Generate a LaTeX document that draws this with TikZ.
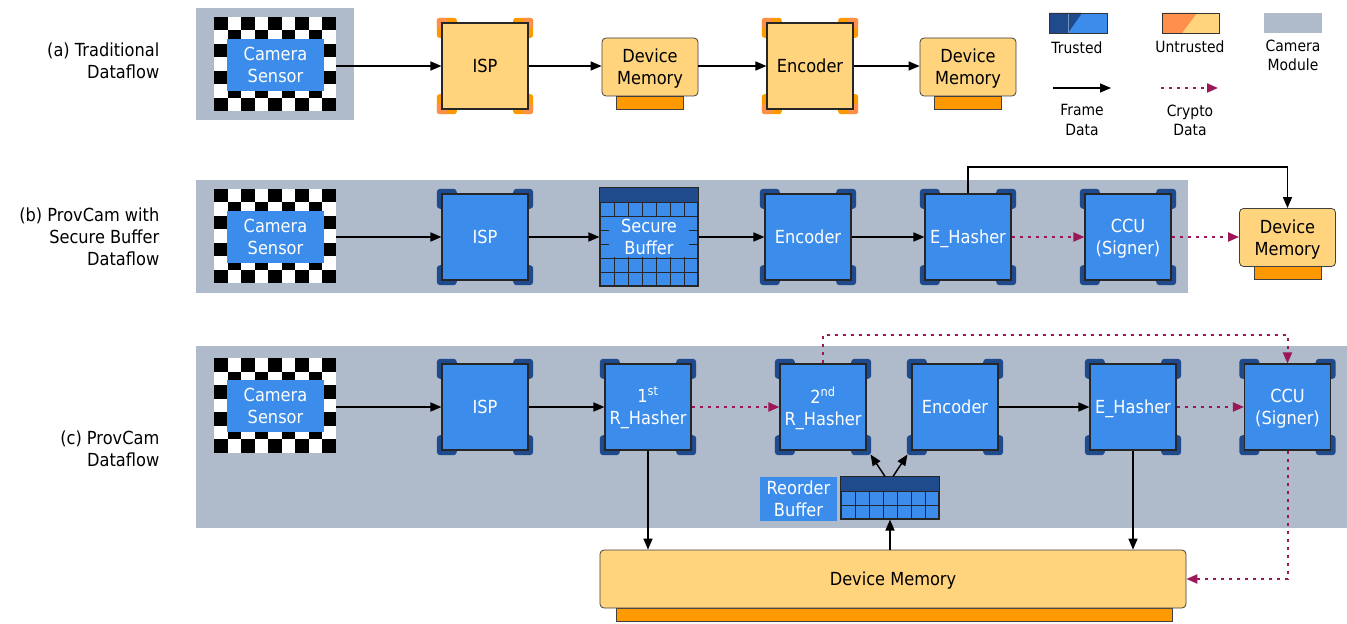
\documentclass[tikz,border=0pt]{standalone}
\usepackage{fontspec}
\setmainfont{DejaVu Sans}[FakeStretch=0.9]
\usetikzlibrary{arrows.meta,calc}
\definecolor{tblue}{HTML}{3C8DEB}
\definecolor{dblue}{HTML}{1F4A8C}
\definecolor{uyellow}{HTML}{FFD47C}
\definecolor{salmon}{HTML}{FF904C}
\definecolor{obase}{HTML}{FF9900}
\definecolor{mgray}{HTML}{AFBACB}
\definecolor{crypto}{HTML}{9B1758}
\pgfdeclarelayer{bg}\pgfdeclarelayer{brk}\pgfsetlayers{bg,brk,main}
\newcommand\ml[1]{\raisebox{-1.6pt}[\height][\depth]{\begin{tabular}{@{}c@{}}#1\end{tabular}}}
\newcommand\tbr[1]{%
 \begin{pgfonlayer}{brk}
 \foreach \c/\sx/\sy in {north west/1/-1,north east/-1/-1,south west/1/1,south east/-1/1}{
   \fill[dblue, rounded corners=2.5pt] ($(#1.\c)+({-(\sx)*3.5pt},{-(\sy)*3.5pt})$) rectangle ($(#1.\c)+({\sx*11.5pt},{\sy*11.5pt})$);
 }
 \end{pgfonlayer}}
\newcommand\ubr[1]{%
 \begin{pgfonlayer}{brk}
 \foreach \c/\sx/\sy in {north west/1/-1,north east/-1/-1,south west/1/1,south east/-1/1}{
   \fill[obase, rounded corners=2pt] ($(#1.\c)+({-(\sx)*3.5pt},{-(\sy)*3.5pt})$) rectangle ($(#1.\c)+({\sx*11.5pt},{\sy*11.5pt})$);
   \fill[salmon, rounded corners=2.5pt] ($(#1.\c)+({-(\sx)*3.5pt},{-(\sy)*3.5pt})$) rectangle ($(#1.\c)+({\sx*4.5pt},{\sy*4.5pt})$);
 }
 \end{pgfonlayer}}
\newcommand\checker[2]{%
 \begin{scope}[shift={(#1,#2)}]
 \fill[white] (0,0) rectangle (122,94.5);
 \foreach \i in {0,...,8}{\foreach \j in {0,...,6}{
   \pgfmathtruncatemacro\k{mod(\i+\j,2)}
   \ifnum\k=0 \fill[black] ({\i*13.555},{\j*13.5}) rectangle ++(13.555,13.5);\fi
 }}
 \end{scope}}
\begin{document}
\begin{tikzpicture}[x=0.75pt,y=-0.75pt,
 txt/.style={font=\fontsize{13.5pt}{16.5pt}\selectfont, align=center},
 lgd/.style={font=\fontsize{11.6pt}{14.3pt}\selectfont, align=center, inner sep=0},
 proc/.style={txt, draw=black!85, line width=0.8pt, fill=tblue, text=white, minimum width=64.5pt, minimum height=64.5pt, inner sep=0},
 uproc/.style={proc, fill=uyellow, text=black},
 mem/.style={txt, draw=black!75, line width=0.6pt, fill=uyellow, rounded corners=3pt, minimum width=72pt, minimum height=43.5pt, inner sep=0},
 membase/.style={draw=black!75, line width=0.6pt, fill=obase, minimum width=50.25pt, minimum height=9.75pt, inner sep=0},
 cam/.style={txt, fill=tblue, text=white, minimum width=72.75pt, minimum height=39pt, inner sep=0},
 chk/.style={minimum width=91.5pt, minimum height=70.9pt, inner sep=0},
 gridl/.style={draw=black!85, line width=0.6pt},
 frame/.style={draw=black, line width=1.1pt, -{Triangle[length=8.25pt,width=6.75pt]}},
 crypto/.style={draw=crypto, line width=1.5pt, dash pattern=on 2.25pt off 3.75pt, -{Triangle[length=8.25pt,width=6.75pt]}},
]
\useasboundingbox (0,0) rectangle (1347,624);

% row labels
\node[txt, anchor=east, align=right] (labA) at (164,61) {(a) Traditional\\Dataflow};
\node[txt, anchor=east, align=right] (labB) at (164,237) {(b) ProvCam with\\Secure Buffer\\Dataflow};
\node[txt, anchor=east, align=right] (labC) at (164,449) {(c) ProvCam\\Dataflow};

% camera modules
\begin{pgfonlayer}{bg}
\fill[mgray] (196,8) rectangle (354,120);
\fill[mgray] (196,180) rectangle (1188,293);
\fill[mgray] (196,346) rectangle (1347,528);
\end{pgfonlayer}

% checkerboards and sensors
\checker{214}{17}
\checker{214}{189}
\checker{214}{358}
\node[chk] (chkA) at (275,64.25) {};
\node[chk] (chkB) at (275,236.25) {};
\node[chk] (chkC) at (275,405.25) {};
\node[cam] (camA) at (275.5,65) {\ml{Camera\\Sensor}};
\node[cam] (camB) at (275.5,237) {\ml{Camera\\Sensor}};
\node[cam] (camC) at (275.5,406) {\ml{Camera\\Sensor}};

% ---------- row (a)
\node[uproc] (ispA) at (485,66) {\ml{ISP}}; \ubr{ispA}
\node[membase] (dmA1b) at (650,103) {};
\node[mem] (dmA1) at (650,67) {\ml{Device\\Memory}};
\node[uproc] (encA) at (810,66) {\ml{Encoder}}; \ubr{encA}
\node[membase] (dmA2b) at (968,103) {};
\node[mem] (dmA2) at (968,67) {\ml{Device\\Memory}};
\draw[frame] (chkA.east |- ispA.west) -- (ispA.west);
\draw[frame] (ispA.east) -- (ispA.east -| dmA1.west);
\draw[frame] (dmA1.east |- encA.west) -- (encA.west);
\draw[frame] (encA.east) -- (encA.east -| dmA2.west);

% ---------- row (b)
\node[proc] (ispB) at (485,237) {\ml{ISP}}; \tbr{ispB}
\node[draw=black!85, line width=0.8pt, fill=tblue, minimum width=73.5pt, minimum height=73.5pt, inner sep=0] (sbuf) at (649,237) {};
\fill[dblue] (600,188) rectangle (698,202);
\foreach \k in {1,...,6} \draw[gridl] ({600+14*\k},202) -- ({600+14*\k},286);
\foreach \k in {0,...,5} \draw[gridl] (600,{202+14*\k}) -- (698,{202+14*\k});
\fill[tblue] (609,217) rectangle (689,257);
\node[txt, text=white] (sbtxt) at (649,237) {\ml{Secure\\Buffer}};
\draw[draw=black!85, line width=0.8pt] (sbuf.north west) rectangle (sbuf.south east);
\node[proc] (encB) at (808,237) {\ml{Encoder}}; \tbr{encB}
\node[proc] (ehB) at (968,237) {\ml{E\_Hasher}}; \tbr{ehB}
\node[proc] (ccuB) at (1128,237) {\ml{CCU\\(Signer)}}; \tbr{ccuB}
\node[membase] (dmBb) at (1287.5,272.5) {};
\node[mem] (dmB) at (1287.5,237.5) {\ml{Device\\Memory}};
\coordinate (bturn) at (1287.5,167);
\draw[frame] (chkB.east |- ispB.west) -- (ispB.west);
\draw[frame] (ispB.east) -- (sbuf.west);
\draw[frame] (sbuf.east) -- (encB.west);
\draw[frame] (encB.east) -- (ehB.west);
\draw[crypto] (ehB.east) -- (ccuB.west);
\draw[crypto] (ccuB.east) -- (ccuB.east -| dmB.west);
\draw[frame] (ehB.north) |- (bturn) -- (dmB.north);

% ---------- row (c)
\node[proc] (ispC) at (485,407) {\ml{ISP}}; \tbr{ispC}
\node[proc] (r1) at (648,407) {\ml{1\textsuperscript{st}\\R\_Hasher}}; \tbr{r1}
\node[proc] (r2) at (823,407) {\ml{2\textsuperscript{nd}\\R\_Hasher}}; \tbr{r2}
\node[proc] (encC) at (955,407) {\ml{Encoder}}; \tbr{encC}
\node[proc] (ehC) at (1133,407) {\ml{E\_Hasher}}; \tbr{ehC}
\node[proc] (ccuC) at (1287.5,407) {\ml{CCU\\(Signer)}}; \tbr{ccuC}
% reorder buffer
\node[draw=black!85, line width=0.8pt, fill=tblue, minimum width=73.5pt, minimum height=31.5pt, inner sep=0] (rob) at (890,498) {};
\fill[dblue] (841,477) rectangle (939,491);
\foreach \k in {1,...,6} \draw[gridl] ({841+14*\k},491) -- ({841+14*\k},519);
\draw[gridl] (841,491) -- (939,491);
\draw[gridl] (841,505) -- (939,505);
\draw[draw=black!85, line width=0.8pt] (rob.north west) rectangle (rob.south east);
\node[txt, fill=tblue, text=white, minimum width=57.75pt, minimum height=31.5pt, inner sep=0] (robl) at (798.5,499) {\ml{Reorder\\Buffer}};
% device memory
\node[membase, minimum width=417pt] (dmCb) at (894,614.5) {};
\node[mem, minimum width=439.5pt] (dmC) at (893,579) {\ml{Device Memory}};
\coordinate (cturn) at (1287.5,335);
\draw[frame] (chkC.east |- ispC.west) -- (ispC.west);
\draw[frame] (ispC.east) -- (r1.west);
\draw[crypto] (r1.east) -- (r2.west);
\draw[frame] (encC.east) -- (ehC.west);
\draw[crypto] (ehC.east) -- (ccuC.west);
\draw[crypto] (r2.north) |- (cturn) -- (ccuC.north);
\draw[crypto] (ccuC.south) |- (dmC.east);
\draw[frame] (r1.south) -- (r1.south |- dmC.north);
\draw[frame] (ehC.south) -- (ehC.south |- dmC.north);
\draw[frame] (rob.south |- dmC.north) -- (rob.south);
\draw[frame] ($(rob.north)+(-5,0)$) -- ($(r2.south east)+(4,4)$);
\draw[frame] ($(rob.north)+(3,0)$) -- ($(encC.south west)+(-4,4)$);

% ---------- legend
\fill[tblue] (1049,13) rectangle (1107,33);
\fill[dblue] (1049,13) -- (1082,13) -- (1068,33) -- (1049,33) -- cycle;
\draw[dblue!60!white, line width=0.4pt] (1068,13) -- (1068,33);
\node[draw=black!80, line width=0.6pt, minimum width=43.5pt, minimum height=15pt, inner sep=0] (trsw) at (1078,23) {};
\node[lgd] (trl) at (1077,48) {Trusted};
\fill[uyellow] (1162,13) rectangle (1219,33);
\fill[salmon] (1162,13) -- (1197,13) -- (1182,33) -- (1162,33) -- cycle;
\node[draw=black!80, line width=0.6pt, minimum width=42.75pt, minimum height=15pt, inner sep=0] (usw) at (1190.5,23) {};
\node[lgd] (ul) at (1190,47) {Untrusted};
\node[fill=mgray, minimum width=43.5pt, minimum height=15pt, inner sep=0] (cmsw) at (1293,23) {};
\node[lgd] (cml) at (1293,55) {Camera\\Module};
\coordinate (fd1) at (1053,88);
\coordinate (fd2) at (1111,88);
\draw[frame] (fd1) -- (fd2);
\node[lgd] (fdl) at (1082,120) {Frame\\Data};
\coordinate (cd1) at (1161,88);
\coordinate (cd2) at (1218,88);
\draw[crypto] (cd1) -- (cd2);
\node[lgd] (cdl) at (1190,120) {Crypto\\Data};
\end{tikzpicture}
\end{document}
